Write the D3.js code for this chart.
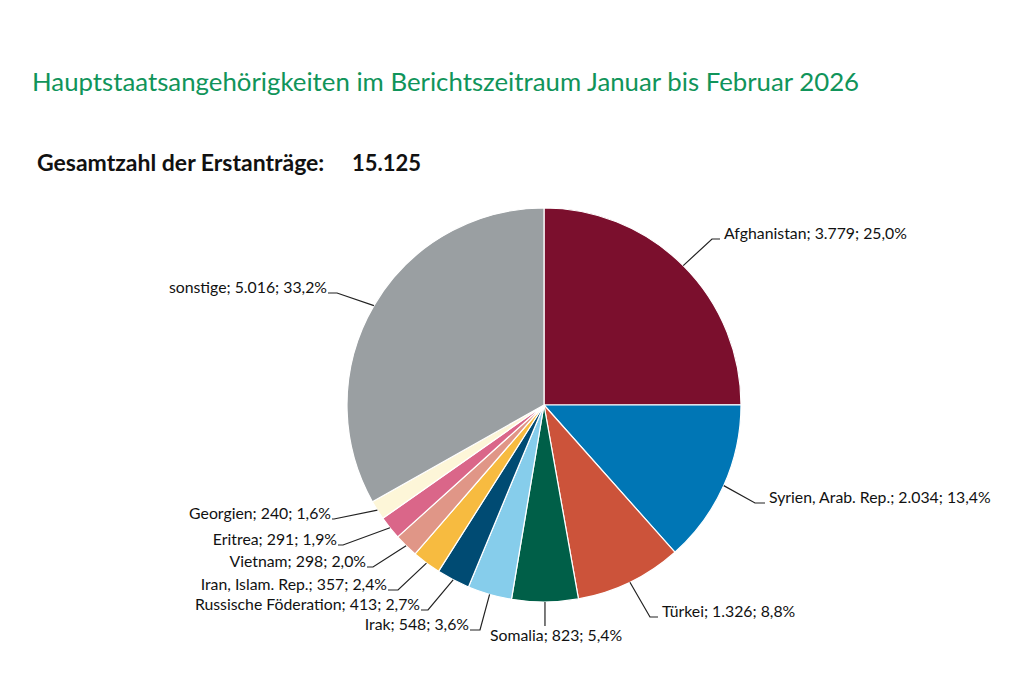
<!DOCTYPE html>
<html>
<head>
<meta charset="utf-8">
<script src="https://cdn.jsdelivr.net/npm/d3@7"></script>
<style>
  body { margin: 0; background: #fff; }
  text { font-family: Lato, "Noto Sans", sans-serif; }
</style>
</head>
<body>
<div id="chart"></div>
<script>
// -----------------------------------------------------------------------
//  Data
// -----------------------------------------------------------------------
const countries = ["Afghanistan", "Syrien, Arab. Rep.", "Türkei", "Somalia", "Irak",
    "Russische Föderation", "Iran, Islam. Rep.", "Vietnam", "Eritrea", "Georgien", "sonstige"];
const counts = [3779, 2034, 1326, 823, 548, 413, 357, 298, 291, 240, 5016];
const countLabels = ["3.779", "2.034", "1.326", "823", "548", "413", "357", "298", "291", "240", "5.016"];
const shareLabels = ["25,0%", "13,4%", "8,8%", "5,4%", "3,6%", "2,7%", "2,4%", "2,0%", "1,9%", "1,6%", "33,2%"];
const sliceColors = ["#7b0f2d", "#0076b5", "#cc533a", "#005f48", "#86cdeb", "#004b73",
    "#f7bb40", "#e09687", "#da6689", "#fdf6d8", "#9a9fa2"];

const total = "15.125";

// -----------------------------------------------------------------------
//  Layout
// -----------------------------------------------------------------------
const width = 1024, height = 683;
const cx = 544, cy = 405, radius = 197;

// leader line elbow (where it turns horizontal), end of horizontal stub, text side
const labelLayout = [
    {elbow: [712, 239], stub: 720, side: "right"},
    {elbow: [755, 503], stub: 765, side: "right"},
    {elbow: [650, 617], stub: 658, side: "right"},
    {elbow: [545, 626], stub: null, side: "below"},
    {elbow: [480, 630], stub: 470, side: "left"},
    {elbow: [428, 610], stub: 421, side: "left"},
    {elbow: [398, 590], stub: 388, side: "left"},
    {elbow: [373, 567], stub: 367, side: "left"},
    {elbow: [343, 545], stub: 338, side: "left"},
    {elbow: [334, 519], stub: 332, side: "left"},
    {elbow: [337, 293], stub: 328, side: "left"}
];

const svg = d3.select("#chart").append("svg")
    .attr("width", width)
    .attr("height", height);

// titles
svg.append("text")
    .attr("x", 32).attr("y", 91)
    .attr("fill", "#10945a")
    .attr("font-size", 25.8)
    .text("Hauptstaatsangehörigkeiten im Berichtszeitraum Januar bis Februar 2026");

svg.append("text")
    .attr("x", 37).attr("y", 171)
    .attr("fill", "#111")
    .attr("font-size", 23)
    .attr("font-weight", "bold")
    .text("Gesamtzahl der Erstanträge:");

svg.append("text")
    .attr("x", 352).attr("y", 171)
    .attr("fill", "#111")
    .attr("font-size", 22)
    .attr("font-weight", "bold")
    .text(total);

// pie
const pie = d3.pie().sort(null).value(d => d)(counts);
const arc = d3.arc().innerRadius(0).outerRadius(radius);

const g = svg.append("g").attr("transform", `translate(${cx},${cy})`);

g.selectAll("path.slice")
    .data(pie)
    .enter()
    .append("path")
    .attr("class", "slice")
    .attr("d", arc)
    .attr("fill", (d, i) => sliceColors[i])
    .attr("stroke", "#fff")
    .attr("stroke-width", 1.2);

// labels + leader lines
const labels = svg.append("g");

pie.forEach((d, i) => {
    const mid = (d.startAngle + d.endAngle) / 2;
    const sx = cx + Math.sin(mid) * radius;
    const sy = cy - Math.cos(mid) * radius;
    const lay = labelLayout[i];
    const pts = [[sx, sy], lay.elbow];
    if (lay.stub !== null) pts.push([lay.stub, lay.elbow[1]]);

    labels.append("path")
        .attr("d", d3.line()(pts))
        .attr("fill", "none")
        .attr("stroke", "#222")
        .attr("stroke-width", 1.2);

    const txt = `${countries[i]}; ${countLabels[i]}; ${shareLabels[i]}`;
    const t = labels.append("text")
        .attr("font-size", 15.8)
        .attr("fill", "#111")
        .text(txt);

    if (lay.side === "right") {
        t.attr("x", lay.stub + 4).attr("y", lay.elbow[1]);
    } else if (lay.side === "left") {
        t.attr("x", lay.stub - 1).attr("y", lay.elbow[1]).attr("text-anchor", "end");
    } else {
        t.attr("x", 490).attr("y", lay.elbow[1] + 15);
    }
});
</script>
</body>
</html>
